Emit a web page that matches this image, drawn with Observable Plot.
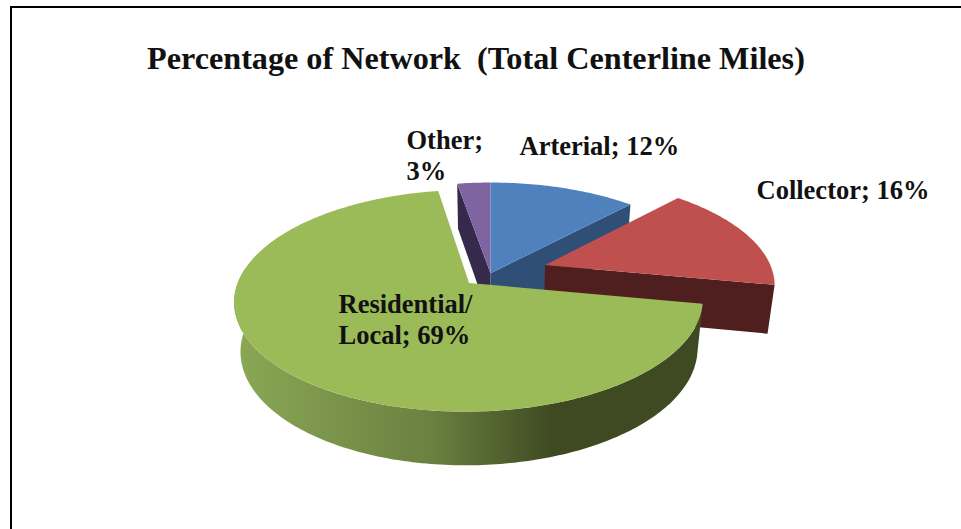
<!DOCTYPE html>
<html>
<head>
<meta charset="utf-8">
<script src="https://cdn.jsdelivr.net/npm/d3@7"></script>
<script src="https://cdn.jsdelivr.net/npm/@observablehq/plot@0.6"></script>
<style>
  html, body { margin: 0; padding: 0; background: #fff; overflow: hidden; }
  #frame { position: absolute; left: 10px; top: 6px; right: 0; bottom: 0;
           border-left: 2.5px solid #000; border-top: 2.5px solid #000; pointer-events: none; }
  #title { height: 78px; box-sizing: border-box; padding: 40px 0 0 147px; margin: 0;
           font: bold 32.2px/36px "Liberation Serif", serif; color: #111; white-space: pre; }
  svg { display: block; }
</style>
</head>
<body>
<div id="frame"></div>
<div id="title">Percentage of Network  (Total Centerline Miles)</div>
<div id="chart"></div>
<script>
// Data, clockwise from 12 o'clock. Labels show the values rounded to whole percent.
const categories = ["Arterial", "Collector", "Residential/ Local", "Other"];
const shares = [12, 16, 69.3, 2.7];
const explode = [0, 0.255, 0.13, 0];

// Layout and style
const W = 961, H = 529, titleH = 78;
const k = 0.158, depth = 0.461, bottomX = 0.975, bottomY = 1.038;
const top3d = ["#4f81bd", "#c0504d", "#9bbb59", "#8064a2"];
const side3d = ["#2f4f77", "#4e1f1e", null, "#352a4b"];

const cum = d3.cumsum(shares);
const slices = categories.map((name, i) => {
  const a1 = (cum[i] - shares[i]) * 3.6, a2 = cum[i] * 3.6;
  const mid = (a1 + a2) / 2 * Math.PI / 180;
  return {name, value: shares[i], a1, a2,
          ox: explode[i] * Math.sin(mid), oy: explode[i] * Math.cos(mid)};
});

// Perspective projection of a point on the pie; level 0 = top face, 1 = bottom face
function project(s, deg, r, level) {
  const t = deg * Math.PI / 180;
  const X = s.ox + r * Math.sin(t), Y = s.oy + r * Math.cos(t);
  const q = 1 + k * Y;
  return level
    ? {x: bottomX * X / q, y: bottomY * Y / q - depth}
    : {x: X / q, y: Y / q};
}
function arc(s, d1, d2, level) {
  const n = Math.max(2, Math.ceil(Math.abs(d2 - d1)));
  return d3.range(n + 1).map(j => project(s, d1 + (d2 - d1) * j / n, 1, level));
}
const topFace = s => [project(s, 0, 0, 0), ...arc(s, s.a1, s.a2, 0)];
const cutFace = (s, deg) => [project(s, 0, 0, 0), project(s, deg, 1, 0), project(s, deg, 1, 1), project(s, 0, 0, 1)];
const wall = (s, d1, d2) => [...arc(s, d1, d2, 0), ...arc(s, d2, d1, 1)];
const face = (pts, fill) => Plot.line(pts, {x: "x", y: "y", fill, stroke: "none"});

const [art, col, res, oth] = slices;
const label = (text, dx, dy) => Plot.text([text], {
  text: d => d, frameAnchor: "top-left", dx, dy, textAnchor: "start", lineAnchor: "middle",
  lineHeight: 1.16, fontFamily: "Liberation Serif", fontWeight: "bold", fontSize: 26.5, fill: "#111"
});
const pct = v => Math.round(v) + "%";

const defs = () => {
  const d = d3.create("svg:defs");
  const g = d.append("linearGradient").attr("id", "greenWall");
  [[0, "#8aa855"], [0.42, "#6a8140"], [0.68, "#3f4a22"], [1, "#3f4a22"]]
    .forEach(([o, c]) => g.append("stop").attr("offset", o).attr("stop-color", c));
  return d.node();
};

const cy = 272.7 - titleH, ry = 105, cx = 490, rx = 228;
const plot = Plot.plot({
  width: W, height: H - titleH, margin: 0,
  x: {domain: [-1, 1], range: [cx - rx, cx + rx]},
  y: {domain: [-1, 1], range: [cy + ry, cy - ry]},
  axis: null,
  marks: [
    defs,
    face(cutFace(oth, oth.a1), side3d[3]),
    face(cutFace(art, art.a2), side3d[0]),
    face(topFace(oth), top3d[3]),
    face(topFace(art), top3d[0]),
    face(cutFace(col, col.a2), side3d[1]),
    face(topFace(col), top3d[1]),
    face(wall(res, res.a1, 278), "url(#greenWall)"),
    face(topFace(res), top3d[2]),
    label(`Other;\n${pct(oth.value)}`, 406, 154 - titleH),
    label(`Arterial; ${pct(art.value)}`, 519, 145 - titleH),
    label(`Collector; ${pct(col.value)}`, 756, 189 - titleH),
    label(`Residential/\nLocal; ${pct(res.value)}`, 338, 318 - titleH)
  ]
});
document.getElementById("chart").appendChild(plot);
</script>
</body>
</html>
